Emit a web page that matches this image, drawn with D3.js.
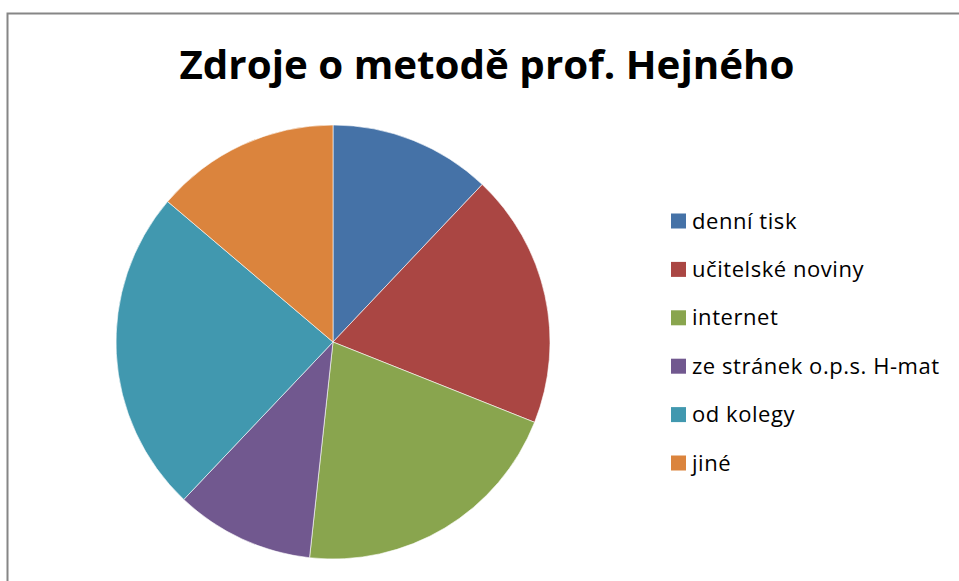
<!DOCTYPE html>
<html>
<head>
<meta charset="utf-8">
<script src="https://cdn.jsdelivr.net/npm/d3@7"></script>
<style>
  html, body { margin: 0; padding: 0; background: #fff; }
  svg { display: block; }
</style>
</head>
<body>
<svg id="chart" width="959" height="581"></svg>
<script>
const title = "Zdroje o metodě prof. Hejného";
const categories = ["denní tisk", "učitelské noviny", "internet", "ze stránek o.p.s. H-mat", "od kolegy", "jiné"];
const values = [7, 11, 12, 6, 14, 8];
const colors = ["#4572A7", "#AA4643", "#89A54E", "#71588F", "#4198AF", "#DB843D"];

const svg = d3.select("#chart");
const W = 959, H = 581;

svg.append("rect").attr("width", W).attr("height", H).attr("fill", "#fff");
// chart frame
svg.append("path")
  .attr("d", `M7.5,${H + 5} L7.5,13.5 L${W + 5},13.5`)
  .attr("fill", "none").attr("stroke", "#868686").attr("stroke-width", 2);

// title
const t = svg.append("text")
  .attr("x", 487).attr("y", 79)
  .attr("text-anchor", "middle")
  .attr("font-family", "'Open Sans', 'Liberation Sans', sans-serif")
  .attr("font-weight", "bold")
  .attr("font-size", 40)
  .attr("fill", "#000")
  .text(title);
t.attr("textLength", 615).attr("lengthAdjust", "spacingAndGlyphs");

// pie
const cx = 333, cy = 342, r = 217;
const pie = d3.pie().sort(null).value(d => d.v);
const arc = d3.arc().innerRadius(0).outerRadius(r);
const data = categories.map((c, i) => ({ c, v: values[i], col: colors[i] }));
const g = svg.append("g").attr("transform", `translate(${cx},${cy})`);
g.selectAll("path").data(pie(data)).join("path")
  .attr("d", arc)
  .attr("fill", d => d.data.col)
  .attr("stroke", "#fff").attr("stroke-width", 0.6).attr("stroke-linejoin", "round");

// legend
const ly = d3.scalePoint().domain(categories).range([221, 463]);
const lg = svg.append("g");
const items = lg.selectAll("g").data(data).join("g")
  .attr("transform", d => `translate(671,${ly(d.c)})`);
items.append("rect").attr("x", 0).attr("y", -7.5).attr("width", 15).attr("height", 15)
  .attr("fill", d => d.col);
items.append("text").attr("x", 21).attr("y", 7.5)
  .attr("font-family", "'Open Sans', 'Liberation Sans', sans-serif")
  .attr("font-size", 22)
  .attr("letter-spacing", 0.55)
  .attr("fill", "#000")
  .text(d => d.c);
</script>
</body>
</html>
